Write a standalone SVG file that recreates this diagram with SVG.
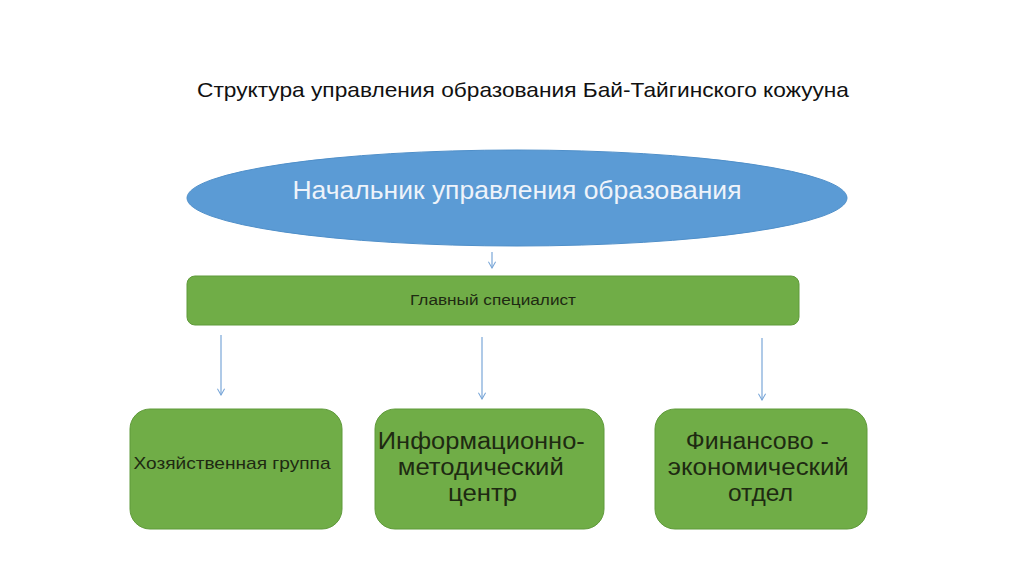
<svg xmlns="http://www.w3.org/2000/svg" width="1024" height="576" viewBox="0 0 1024 576">
<style>
.t{font-family:"Liberation Sans",Arial,sans-serif;}
.box{fill:#70AD47;stroke:#5f9a3a;stroke-width:1;}
.dk{fill:#1e2a12;}
.con{stroke:#7aa7d8;stroke-width:1.2;fill:none;}
</style>
<defs>
<marker id="ah" viewBox="0 0 10 10" refX="9" refY="5" markerWidth="9" markerHeight="9" markerUnits="userSpaceOnUse" orient="auto">
<path d="M2,1 L9,5 L2,9" fill="none" stroke="#7aa7d8" stroke-width="1.2"/>
</marker>
</defs>
<rect width="1024" height="576" fill="#ffffff"/>
<text id="title" class="t" x="523" y="97" font-size="21" text-anchor="middle" textLength="652" lengthAdjust="spacingAndGlyphs" fill="#111">Структура управления образования Бай-Тайгинского кожууна</text>
<g id="chief">
<ellipse cx="517" cy="198" rx="330" ry="48" fill="#5B9BD5" stroke="#4f8fc9" stroke-width="1"/>
<text class="t" x="517" y="199" font-size="25" text-anchor="middle" textLength="449" lengthAdjust="spacingAndGlyphs" fill="#eef3fa">Начальник управления образования</text>
</g>
<g id="main">
<rect x="187" y="276" width="612" height="49" rx="8" class="box"/>
<text class="t dk" x="493" y="305" font-size="14" text-anchor="middle" textLength="166" lengthAdjust="spacingAndGlyphs">Главный специалист</text>
</g>
<g id="household">
<rect x="130" y="409" width="212" height="120" rx="20" class="box"/>
<text class="t dk" x="232" y="469" font-size="17" text-anchor="middle" textLength="197" lengthAdjust="spacingAndGlyphs">Хозяйственная группа</text>
</g>
<g id="info">
<rect x="375" y="409" width="229" height="120" rx="20" class="box"/>
<text class="t dk" font-size="23" text-anchor="middle">
<tspan x="484.5" y="449" textLength="207" lengthAdjust="spacingAndGlyphs">Информационно-</tspan>
<tspan x="484" y="475" textLength="166" lengthAdjust="spacingAndGlyphs">методический</tspan>
<tspan x="482.5" y="501" textLength="69" lengthAdjust="spacingAndGlyphs">центр</tspan>
</text>
</g>
<g id="finance">
<rect x="655" y="409" width="212" height="120" rx="20" class="box"/>
<text class="t dk" font-size="23" text-anchor="middle">
<tspan x="760.5" y="449" textLength="143" lengthAdjust="spacingAndGlyphs">Финансово -</tspan>
<tspan x="761.5" y="475" textLength="181" lengthAdjust="spacingAndGlyphs">экономический</tspan>
<tspan x="760.5" y="501" textLength="65" lengthAdjust="spacingAndGlyphs">отдел</tspan>
</text>
</g>
<g id="connectors">
<line x1="492" y1="252" x2="492" y2="268" class="con" marker-end="url(#ah)"/>
<line x1="221" y1="335" x2="221" y2="395" class="con" marker-end="url(#ah)"/>
<line x1="482" y1="337" x2="482" y2="399" class="con" marker-end="url(#ah)"/>
<line x1="762" y1="338" x2="762" y2="400" class="con" marker-end="url(#ah)"/>
</g>
</svg>
